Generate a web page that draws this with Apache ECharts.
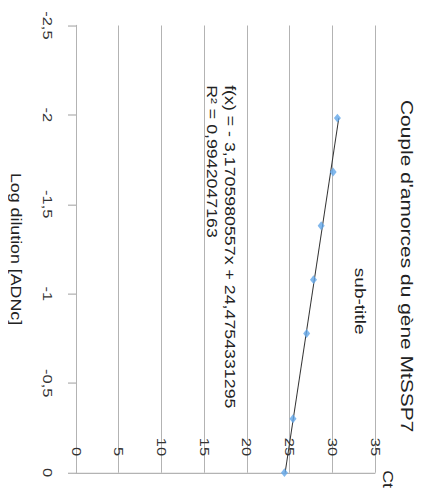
<!DOCTYPE html>
<html>
<head>
<meta charset="utf-8">
<script src="https://cdn.jsdelivr.net/npm/echarts@6/dist/echarts.min.js"></script>
<style>
html,body{margin:0;padding:0;background:#fff;width:425px;height:493px;overflow:hidden;}
#chart{width:425px;height:388px;transform:scaleY(1.2706);transform-origin:0 0;}
</style>
</head>
<body>
<div id="chart"></div>
<script>
// Data
var ctValues = [24.4, 25.4, 27.0, 27.8, 28.7, 30.1, 30.6];
var logDilution = [0, -0.301, -0.778, -1.079, -1.380, -1.681, -1.982];
var trendCt = [24.48, 30.76];
var trendLog = [0, -1.982];
var ctTicks = [0, 5, 10, 15, 20, 25, 30, 35];
var logTicks = [-2.5, -2, -1.5, -1, -0.5, 0];
var titleText = "Couple d'amorces du gène MtSSP7";
var subtitleText = "sub-title";
var equationText = "f(x) = - 3,1705980557x + 24,4754331295\nR² = 0,9942047163";
var xName = "Ct";
var yName = "Log dilution [ADNc]";

var points = ctValues.map(function (c, i) { return [c, logDilution[i]]; });
var trend = trendCt.map(function (c, i) { return [c, trendLog[i]]; });
var fmt = function (v) { return String(v).replace('.', ','); };

var chart = echarts.init(document.getElementById('chart'), null, {renderer: 'svg'});
var gray = '#b3b3b3';
chart.setOption({
  animation: false,
  textStyle: {fontFamily: 'Liberation Sans'},
  grid: {left: 76, right: 50, top: 20, bottom: 16},
  xAxis: {
    type: 'value', min: ctTicks[0], max: ctTicks[ctTicks.length - 1], interval: 5,
    axisLine: {lineStyle: {color: gray, width: 1}},
    axisTick: {show: false},
    splitLine: {show: true, lineStyle: {color: gray, width: 1}},
    axisLabel: {inside: true, rotate: -90, margin: 13, fontSize: 13, color: '#333', formatter: fmt}
  },
  yAxis: {
    type: 'value', min: logTicks[0], max: logTicks[logTicks.length - 1], interval: 0.5, inverse: true,
    axisLine: {show: true, lineStyle: {color: gray, width: 1}},
    axisTick: {show: true, length: 8, lineStyle: {color: gray}},
    splitLine: {show: false},
    axisLabel: {rotate: -90, margin: 22, fontSize: 13, color: '#333', formatter: fmt},
    name: yName, nameLocation: 'middle', nameRotate: -90, nameGap: 53,
    nameTextStyle: {fontSize: 14, color: '#222'}
  },
  series: [
    {type: 'line', data: trend, symbol: 'none', lineStyle: {color: '#333', width: 1}, z: 2},
    {type: 'scatter', data: points, symbol: 'diamond', symbolSize: 7, itemStyle: {color: '#62a6e8'}, z: 3}
  ],
  graphic: [
    {type: 'text', x: 407, y: 209.5, rotation: -Math.PI / 2,
     style: {text: titleText, fontSize: 16.5, fontFamily: 'Liberation Sans', fill: '#222', align: 'center', verticalAlign: 'middle'}},
    {type: 'text', x: 360, y: 237, rotation: -Math.PI / 2,
     style: {text: subtitleText, fontSize: 15, fontFamily: 'Liberation Sans', fill: '#222', align: 'center', verticalAlign: 'middle'}},
    {type: 'text', x: 239, y: 67, rotation: -Math.PI / 2,
     style: {text: equationText, fontSize: 14, lineHeight: 18, fontFamily: 'Liberation Sans', fill: '#222', align: 'left', verticalAlign: 'top'}},
    {type: 'text', x: 388, y: 377, rotation: -Math.PI / 2,
     style: {text: xName, fontSize: 14, fontFamily: 'Liberation Sans', fill: '#222', align: 'center', verticalAlign: 'middle'}}
  ]
});
</script>
</body>
</html>
